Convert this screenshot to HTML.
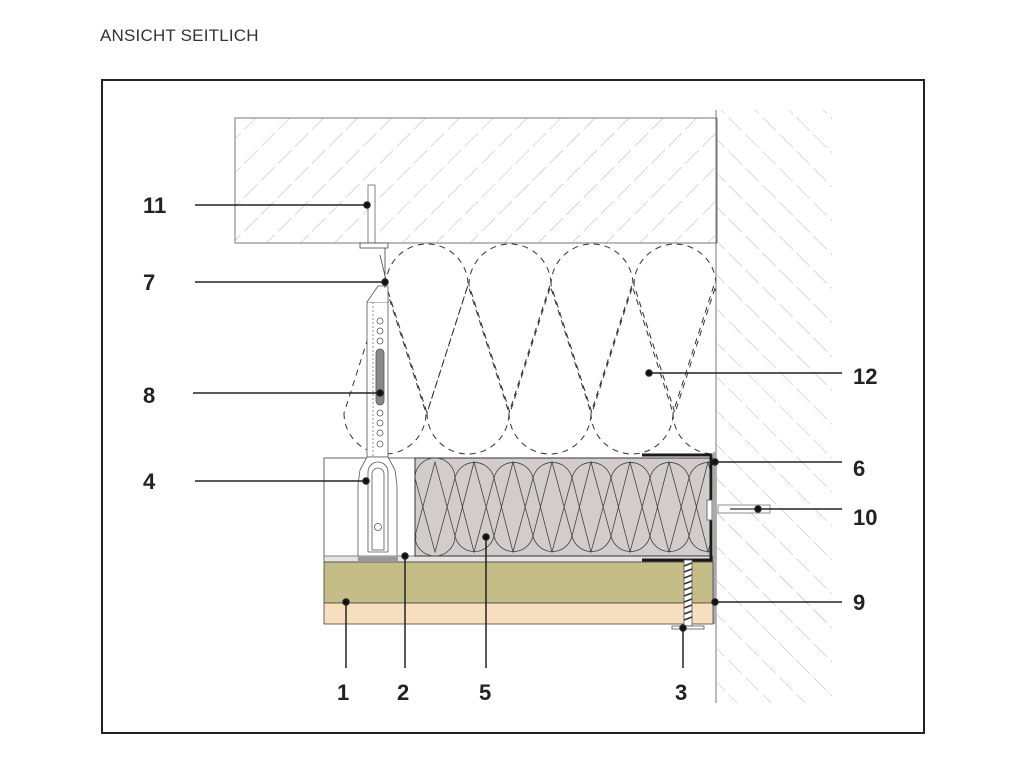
<!DOCTYPE html>
<html><head><meta charset="utf-8"><style>
html,body{margin:0;padding:0;background:#fff;}
svg{display:block;}
</style></head><body>
<svg width="1024" height="768" viewBox="0 0 1024 768" xmlns="http://www.w3.org/2000/svg" font-family="Liberation Sans, sans-serif">
<defs>
<pattern id="hs" width="24" height="24" patternUnits="userSpaceOnUse" patternTransform="rotate(45)">
<line x1="0" y1="0" x2="0" y2="24" stroke="#b4b4b4" stroke-width="1" stroke-dasharray="15 5"/>
</pattern>
<pattern id="hw" width="24" height="24" patternUnits="userSpaceOnUse" patternTransform="rotate(-45)">
<line x1="0" y1="0" x2="0" y2="24" stroke="#b4b4b4" stroke-width="1" stroke-dasharray="17 5"/>
</pattern>
<clipPath id="cg"><rect x="415" y="458" width="297" height="98"/></clipPath>
<clipPath id="cd"><rect x="330" y="243" width="386" height="213"/></clipPath>
</defs>
<text x="100" y="41" font-size="17" fill="#333" letter-spacing="0.2">ANSICHT SEITLICH</text>
<rect x="102" y="80" width="822" height="653" fill="none" stroke="#222" stroke-width="2"/>
<rect x="717" y="110" width="115" height="593" fill="url(#hw)"/>
<line x1="716" y1="110" x2="716" y2="703" stroke="#777" stroke-width="1"/>
<rect x="235" y="118" width="482" height="125" fill="url(#hs)" stroke="#777" stroke-width="1"/>
<g clip-path="url(#cd)" fill="none" stroke="#333" stroke-width="1" stroke-dasharray="6 5">
<path d="M386,285 A41,41 0 0 1 468,285 L427,413 Z"/>
<path d="M469,285 A41,41 0 0 1 551,285 L510,413 Z"/>
<path d="M551,285 A41,41 0 0 1 633,285 L592,413 Z"/>
<path d="M634,285 A41,41 0 0 1 716,285 L675,413 Z"/>
<path d="M344,413 A41,41 0 0 0 426,413 L385,285 Z"/>
<path d="M427,413 A41,41 0 0 0 509,413 L468,285 Z"/>
<path d="M509,413 A41,41 0 0 0 591,413 L550,285 Z"/>
<path d="M591,413 A41,41 0 0 0 673,413 L632,285 Z"/>
<path d="M673,413 A41,41 0 0 0 755,413 L714,285 Z"/>
</g>
<rect x="324" y="458" width="392" height="102" fill="#fff" stroke="#666" stroke-width="1"/>
<rect x="324" y="556" width="389" height="6" fill="#e4e4e4" stroke="#666" stroke-width="0.8"/>
<rect x="415" y="458" width="297" height="98" fill="#d3cccc" stroke="#333" stroke-width="1"/>
<g clip-path="url(#cg)" fill="none" stroke="#444" stroke-width="0.8">
<path d="M415,478 A20,20 0 0 1 455,478 L435,552 Z"/>
<path d="M455,478 A20,20 0 0 1 494,478 L474,552 Z"/>
<path d="M494,478 A20,20 0 0 1 533,478 L513,552 Z"/>
<path d="M533,478 A20,20 0 0 1 572,478 L552,552 Z"/>
<path d="M572,478 A20,20 0 0 1 611,478 L591,552 Z"/>
<path d="M611,478 A20,20 0 0 1 650,478 L630,552 Z"/>
<path d="M650,478 A20,20 0 0 1 689,478 L669,552 Z"/>
<path d="M689,478 A20,20 0 0 1 728,478 L708,552 Z"/>
<path d="M376,536 A20,20 0 0 0 416,536 L396,462 Z"/>
<path d="M415,536 A20,20 0 0 0 455,536 L435,462 Z"/>
<path d="M455,536 A20,20 0 0 0 494,536 L474,462 Z"/>
<path d="M494,536 A20,20 0 0 0 533,536 L513,462 Z"/>
<path d="M533,536 A20,20 0 0 0 572,536 L552,462 Z"/>
<path d="M572,536 A20,20 0 0 0 611,536 L591,462 Z"/>
<path d="M611,536 A20,20 0 0 0 650,536 L630,462 Z"/>
<path d="M650,536 A20,20 0 0 0 689,536 L669,462 Z"/>
<path d="M689,536 A20,20 0 0 0 728,536 L708,462 Z"/>
</g>
<path d="M642,455 L711,455 L711,560 L642,560" fill="none" stroke="#1a1a1a" stroke-width="3"/>
<rect x="707" y="500" width="5" height="20" fill="#fff" stroke="#555" stroke-width="0.8"/>
<rect x="713" y="452" width="3" height="172" fill="#aaa"/>
<rect x="324" y="562" width="389" height="41" fill="#c4bd87" stroke="#444" stroke-width="0.8"/>
<rect x="324" y="603" width="389" height="21" fill="#f7dfbd" stroke="#444" stroke-width="0.8"/>
<rect x="684" y="560" width="8" height="66" fill="#fff" stroke="#555" stroke-width="0.8"/>
<path d="M684,566 l8,-3 M684,572 l8,-3 M684,578 l8,-3 M684,584 l8,-3 M684,590 l8,-3 M684,596 l8,-3 M684,602 l8,-3 M684,608 l8,-3 M684,614 l8,-3 M684,620 l8,-3" stroke="#333" stroke-width="1.5"/>
<rect x="672" y="626" width="32" height="3" fill="#fff" stroke="#555" stroke-width="0.8"/>
<rect x="718" y="505" width="52" height="8" fill="#fff" stroke="#777" stroke-width="0.8"/>
<path d="M730,509 l30,0" stroke="#555" stroke-width="1.5"/>
<rect x="367" y="302" width="21" height="155" fill="#fff" stroke="#555" stroke-width="0.8"/>
<line x1="373" y1="302" x2="373" y2="457" stroke="#666" stroke-width="0.7" stroke-dasharray="2 2"/>
<g fill="#fff" stroke="#555" stroke-width="0.8">
<circle cx="380" cy="321" r="3"/><circle cx="380" cy="331" r="3"/><circle cx="380" cy="341" r="3"/>
<circle cx="380" cy="413" r="3"/><circle cx="380" cy="423" r="3"/><circle cx="380" cy="433" r="3"/><circle cx="380" cy="444" r="3"/>
</g>
<rect x="376" y="349" width="8" height="56" rx="4" fill="#888" stroke="#555" stroke-width="0.8"/>
<path d="M367,302 L378,286 L388,286 L388,302" fill="#fff" stroke="#555" stroke-width="0.8"/>
<rect x="368" y="185" width="7" height="58" fill="#fff" stroke="#666" stroke-width="0.8"/>
<rect x="360" y="243" width="28" height="5" fill="#fff" stroke="#444" stroke-width="0.8"/>
<path d="M385,248 L385,288 M380,255 L386,280" stroke="#444" stroke-width="0.8" fill="none"/>
<path d="M360,470 L367,457 L388,457 L395,470 L397,485 L397,556 L358,556 L358,485 Z" fill="#fff" stroke="#555" stroke-width="0.8"/>
<path d="M368,472 A10,10 0 0 1 388,472 L388,552 L368,552 Z" fill="#fff" stroke="#555" stroke-width="0.8"/>
<path d="M372,474 A6,6 0 0 1 384,474 L384,550 L372,550 Z" fill="none" stroke="#555" stroke-width="0.8"/>
<circle cx="378" cy="527" r="3.5" fill="#fff" stroke="#555" stroke-width="0.8"/>
<rect x="358" y="557" width="40" height="4" fill="#999"/>
<g stroke="#222" stroke-width="1.5" fill="#111">
<line x1="195" y1="205" x2="367" y2="205"/><circle cx="367" cy="205" r="3"/>
<line x1="195" y1="282" x2="385" y2="282"/><circle cx="385" cy="282" r="3"/>
<line x1="193" y1="393" x2="380" y2="393"/><circle cx="380" cy="393" r="3"/>
<line x1="195" y1="481" x2="366" y2="481"/><circle cx="366" cy="481" r="3"/>
<line x1="715" y1="462" x2="842" y2="462"/><circle cx="715" cy="462" r="3"/>
<line x1="758" y1="509" x2="842" y2="509"/><circle cx="758" cy="509" r="3"/>
<line x1="715" y1="602" x2="842" y2="602"/><circle cx="715" cy="602" r="3"/>
<line x1="649" y1="373" x2="842" y2="373"/><circle cx="649" cy="373" r="3"/>
<line x1="346" y1="602" x2="346" y2="668"/><circle cx="346" cy="602" r="3"/>
<line x1="405" y1="556" x2="405" y2="668"/><circle cx="405" cy="556" r="3"/>
<line x1="486" y1="537" x2="486" y2="668"/><circle cx="486" cy="537" r="3"/>
<line x1="683" y1="628" x2="683" y2="668"/><circle cx="683" cy="628" r="3"/>
</g>
<g font-size="22" font-weight="bold" fill="#222">
<text x="143" y="213">11</text>
<text x="143" y="290">7</text>
<text x="143" y="403">8</text>
<text x="143" y="489">4</text>
<text x="853" y="476">6</text>
<text x="853" y="525">10</text>
<text x="853" y="610">9</text>
<text x="853" y="384">12</text>
<text x="337" y="700">1</text>
<text x="397" y="700">2</text>
<text x="479" y="700">5</text>
<text x="675" y="700">3</text>
</g>
</svg>
</body></html>
